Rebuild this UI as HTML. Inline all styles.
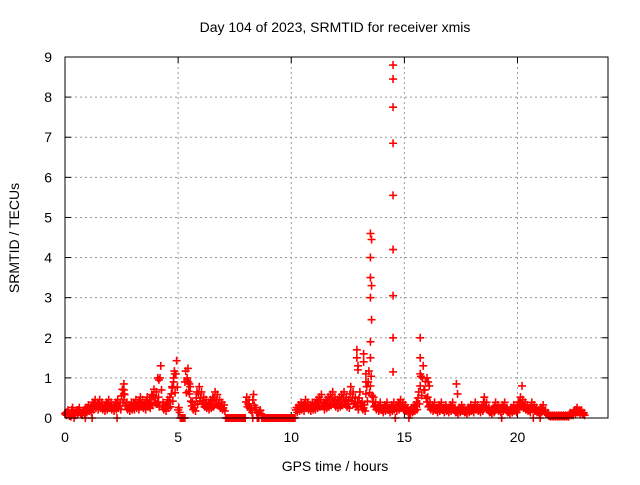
<!DOCTYPE html>
<html><head><meta charset="utf-8"><style>
body{margin:0;background:#fff}
svg text{font-family:"Liberation Sans",sans-serif;font-size:14px;fill:#000}
</style></head><body>
<svg id="chart" width="640" height="480" xmlns="http://www.w3.org/2000/svg">
<rect width="640" height="480" fill="#fff"/>
<text x="335" y="32" text-anchor="middle">Day 104 of 2023, SRMTID for receiver xmis</text>
<text x="335" y="471" text-anchor="middle">GPS time / hours</text>
<text transform="translate(19,238) rotate(-90)" text-anchor="middle">SRMTID / TECUs</text>
<g id="grid"></g>
<g id="ticks"></g>
<g id="marks"></g>
<rect x="65" y="57" width="543" height="361" fill="none" stroke="#000"/>
</svg>
<script>
const xTicks=[0,5,10,15,20];
const yTicks=[0,1,2,3,4,5,6,7,8,9];
const baseStart=0, baseStep=0.1;
const baseValues=[
0.1,0.15,0.05,0.2,0.1,0.15,0.2,0.1,0.15,0.2,
0.25,0.2,0.3,0.35,0.3,0.35,0.3,0.25,0.3,0.35,
0.3,0.25,0.3,0.35,0.3,0.55,0.45,0.3,0.25,0.3,
0.3,0.35,0.3,0.4,0.35,0.3,0.4,0.35,0.45,0.55,
0.5,0.4,1.0,0.3,0.25,0.35,0.4,0.6,0.9,1.1,
0.2,0,0,0.9,0.95,0.6,0.3,0.25,0.5,0.6,
0.5,0.4,0.35,0.3,0.35,0.4,0.5,0.45,0.35,0.3,
0.25,0,0,0,0,0,0,0,0,0,
0.4,0.35,0.2,0.45,0.2,0,0.15,0,0,0,
0,0,0,0,0,0,0,0,0,0,
0,0,0.2,0.25,0.3,0.25,0.35,0.3,0.25,0.3,
0.3,0.35,0.4,0.45,0.3,0.35,0.4,0.45,0.5,0.4,
0.35,0.4,0.45,0.5,0.4,0.35,0.6,0.5,0.4,0.3,
0.5,0.3,0.25,0.6,0.9,0.8,0.4,0.3,0.25,0.3,
0.2,0.25,0.3,0.2,0.25,0.3,0.25,0.3,0.35,0.3,
0.25,0.2,0.15,0.2,0.25,0.3,0.5,0.8,1.0,0.7,
0.4,0.3,0.25,0.3,0.2,0.25,0.3,0.2,0.25,0.2,
0.25,0.3,0.2,0.15,0.2,0.25,0.2,0.15,0.2,0.25,
0.2,0.3,0.25,0.2,0.25,0.4,0.3,0.2,0.15,0.2,
0.3,0.25,0.2,0.25,0.3,0.2,0.15,0.2,0.25,0.2,
0.3,0.4,0.35,0.3,0.25,0.2,0.3,0.25,0.2,0.15,
0.2,0.25,0.15,0.1,0.05,0.05,0.05,0.05,0.05,0.05,
0.05,0.05,0.05,0.1,0.1,0.15,0.2,0.15,0.15,0.1];
const extraTimes=[2.6,2.6,2.6,4.1,4.15,4.8,4.85,4.75,5.4,5.45,5.5,12.9,12.9,12.95,12.95,13.2,13.2,13.3,13.3,
13.5,13.55,13.5,13.5,13.55,13.5,13.55,13.5,13.5,
14.5,14.5,14.5,14.5,14.5,14.5,14.5,14.5,14.5,
15.7,15.7,15.7,16.0,16.05,16.1,17.3,17.35,20.2,
0.4,0.9,1.2,2.3,5.1,5.2,5.3,7.8,8.3,9.0,14.6,15.2,19.3,20.7,21.0];
const extraValues=[0.85,0.7,0.6,1.0,0.95,1.0,1.1,0.75,1.0,0.9,0.85,1.7,1.5,1.3,1.2,1.6,1.4,1.1,0.9,
4.6,4.45,4.0,3.5,3.3,3.0,2.45,1.9,1.5,
8.8,8.45,7.75,6.85,5.55,4.2,3.05,2.0,1.15,
2.0,1.5,1.1,1.0,0.9,0.8,0.85,0.6,0.8,
0,0,0,0,0,0,0,0,0,0,0,0,0,0,0];
const X=t=>65+t*543/24, Y=v=>418-v*361/9;
const ns="http://www.w3.org/2000/svg";
const grid=document.getElementById('grid'),ticks=document.getElementById('ticks'),marks=document.getElementById('marks'),svg=document.getElementById('chart');
function ln(p,x1,y1,x2,y2,st,dash){const l=document.createElementNS(ns,'line');l.setAttribute('x1',x1);l.setAttribute('y1',y1);l.setAttribute('x2',x2);l.setAttribute('y2',y2);l.setAttribute('stroke',st);if(dash)l.setAttribute('stroke-dasharray',dash);p.appendChild(l);return l;}
xTicks.forEach(t=>{const x=X(t);
 if(t>0){const g=ln(grid,x,57,x,418,'#999','2,3');}
 ln(ticks,x,418,x,412,'#000');ln(ticks,x,57,x,63,'#000');
 const tx=document.createElementNS(ns,'text');tx.setAttribute('x',x);tx.setAttribute('y',442);tx.setAttribute('text-anchor','middle');tx.textContent=t;
 
 
 svg.appendChild(tx);});
yTicks.forEach(v=>{const y=Y(v);
 if(v>0&&v<9){const g=ln(grid,65,y,608,y,'#999','2,3');}
 ln(ticks,65,y,71,y,'#000');ln(ticks,608,y,602,y,'#000');
 const tx=document.createElementNS(ns,'text');tx.setAttribute('x',52);tx.setAttribute('y',y+5);tx.setAttribute('text-anchor','end');tx.textContent=v;
 
 
 svg.appendChild(tx);});
function plus(t,v){const x=X(t),y=Y(v);const p=document.createElementNS(ns,'path');
 p.setAttribute('d',`M${x-4},${y}h8M${x},${y-4}v8`);p.setAttribute('stroke','#f00');p.setAttribute('stroke-width','1.6');
 
 
 marks.appendChild(p);}
baseValues.forEach((v,i)=>{const t=baseStart+i*baseStep;plus(t,v);plus(t+0.033,v*1.3);plus(t+0.066,v*0.7);});
extraTimes.forEach((t,i)=>plus(t,extraValues[i]));
</script>
</body></html>
